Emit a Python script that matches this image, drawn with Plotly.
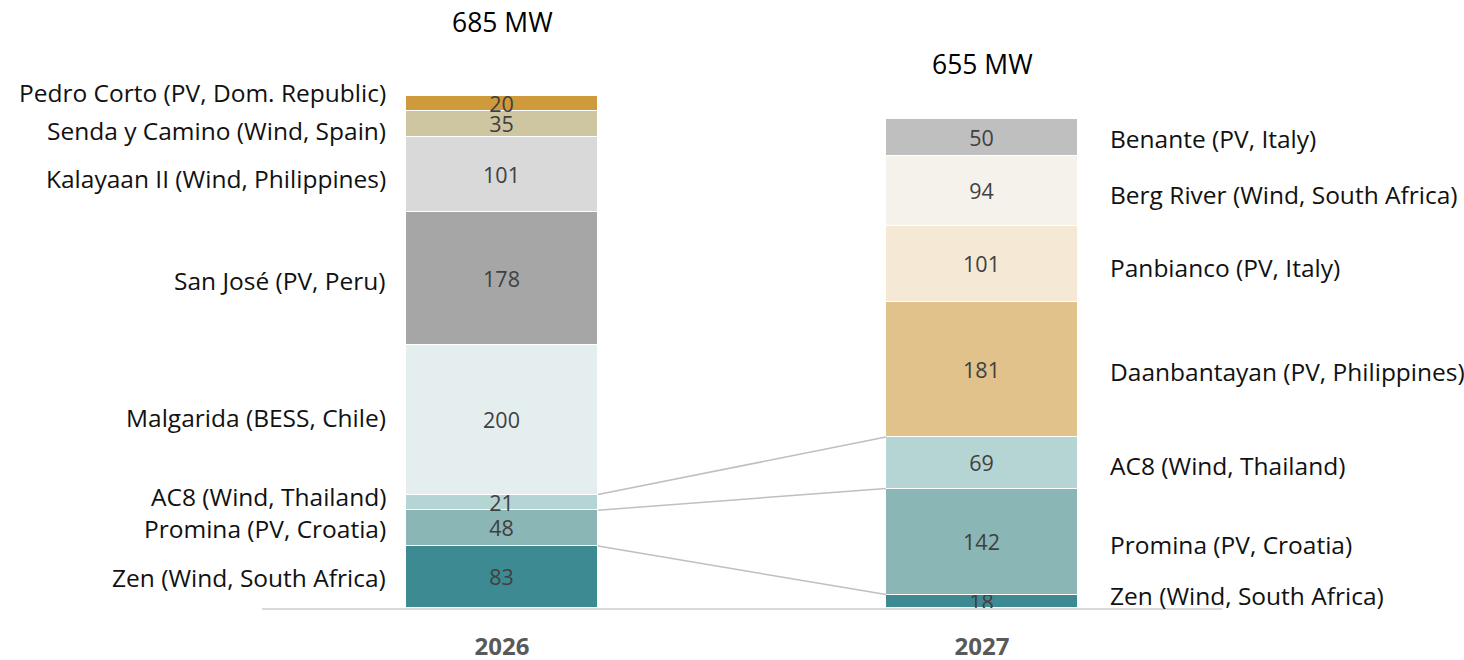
import numpy as np
import plotly.graph_objects as go

years = ["2026", "2027"]
totals_text = ["685 MW", "655 MW"]

projects_2026 = ["Zen (Wind, South Africa)", "Promina (PV, Croatia)", "AC8 (Wind, Thailand)",
                 "Malgarida (BESS, Chile)", "San José (PV, Peru)", "Kalayaan II (Wind, Philippines)",
                 "Senda y Camino (Wind, Spain)", "Pedro Corto (PV, Dom. Republic)"]
values_2026 = [83, 48, 21, 200, 178, 101, 35, 20]

projects_2027 = ["Zen (Wind, South Africa)", "Promina (PV, Croatia)", "AC8 (Wind, Thailand)",
                 "Daanbantayan (PV, Philippines)", "Panbianco (PV, Italy)",
                 "Berg River (Wind, South Africa)", "Benante (PV, Italy)"]
values_2027 = [18, 142, 69, 181, 101, 94, 50]

colors_2026 = ["#3D8A93", "#8AB6B5", "#B5D5D4", "#E4EEEF", "#A6A6A6", "#D9D9D9", "#CDC6A0", "#CF9A3C"]
colors_2027 = ["#3D8A93", "#8AB6B5", "#B5D5D4", "#E0C28A", "#F5E9D6", "#F5F2EB", "#BFBFBF"]

# pixel nudges for side labels (positive = up)
nudge_2026 = [0, 0, 6, 2, -2, -4, -7, 11]
nudge_2027 = [6, -3, -3, -2, -3, -3, -1]
total_shift = [54, 35]

# projects linked between the two years (indices into both lists)
links = [0, 1, 2]

BAR_W = 0.4
FONT = "Open Sans"

fig = go.Figure()

def add_stack(xpos, values, colors):
    for v, c in zip(values, colors):
        fig.add_trace(go.Bar(
            x=[xpos], y=[v], width=BAR_W, marker=dict(color=c, line=dict(color="white", width=1)),
            text=[str(v)], textposition="inside", insidetextanchor="middle", constraintext="none",
            textangle=0,
            textfont=dict(family=FONT, size=21.5, color="#404040"), showlegend=False, hoverinfo="skip"))

add_stack(0, values_2026, colors_2026)
add_stack(1, values_2027, colors_2027)

cum26 = np.cumsum(values_2026)
cum27 = np.cumsum(values_2027)

for i in links:
    fig.add_trace(go.Scatter(
        x=[0 + BAR_W / 2, 1 - BAR_W / 2], y=[cum26[i], cum27[i]], mode="lines",
        line=dict(color="#BFBFBF", width=1.5), showlegend=False, hoverinfo="skip"))

annotations = []
for i, (name, v) in enumerate(zip(projects_2026, values_2026)):
    annotations.append(dict(x=0 - BAR_W / 2, y=cum26[i] - v / 2, text=name, showarrow=False,
                            xanchor="right", yanchor="middle", xshift=-18, yshift=nudge_2026[i],
                            font=dict(family=FONT, size=24.5, color="#111111")))
for i, (name, v) in enumerate(zip(projects_2027, values_2027)):
    annotations.append(dict(x=1 + BAR_W / 2, y=cum27[i] - v / 2, text=name, showarrow=False,
                            xanchor="left", yanchor="middle", xshift=30, yshift=nudge_2027[i],
                            font=dict(family=FONT, size=24.5, color="#111111")))
for j, (tot, txt) in enumerate(zip([cum26[-1], cum27[-1]], totals_text)):
    annotations.append(dict(x=j, y=tot, text=txt, showarrow=False, xanchor="center",
                            yanchor="bottom", yshift=total_shift[j],
                            font=dict(family=FONT, size=26.5, color="#000000")))

fig.update_layout(
    width=1464, height=660, barmode="stack", bargap=0,
    margin=dict(l=262, r=242, t=48, b=52),
    paper_bgcolor="white", plot_bgcolor="white",
    annotations=annotations,
    xaxis=dict(range=[-0.5, 1.5], tickvals=[0, 1], ticktext=years, showgrid=False, zeroline=False,
               showline=True, linecolor="#D9D9D9", linewidth=2, ticks="", automargin=False,
               ticklabelstandoff=16,
               tickfont=dict(family=FONT, size=24, color="#595959", weight="bold")),
    yaxis=dict(range=[0, 750], visible=False, showgrid=False, zeroline=False, automargin=False),
)

fig.write_html("out.html")
